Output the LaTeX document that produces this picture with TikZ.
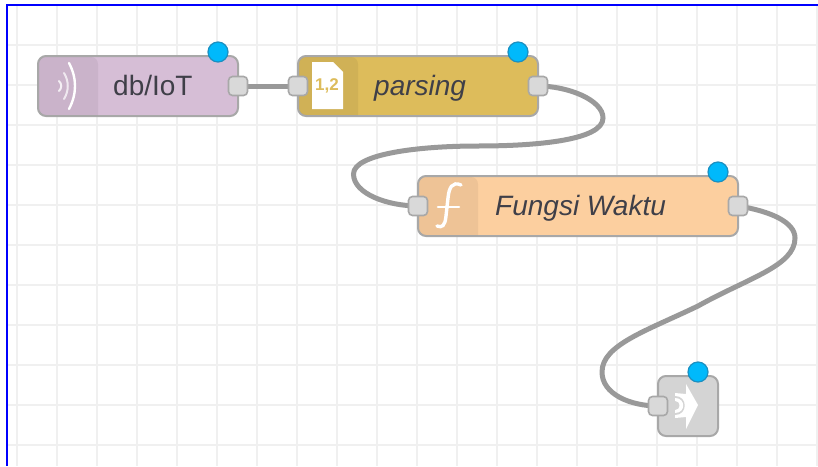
\documentclass[tikz,border=0pt]{standalone}
\usepackage{fontspec}
\setmainfont{Liberation Sans}
\pgfdeclarelayer{gridlayer}
\pgfdeclarelayer{wirelayer}
\pgfsetlayers{gridlayer,wirelayer,main}
\definecolor{gridc}{HTML}{F0F0F0}
\definecolor{edgec}{HTML}{A8A8A8}
\definecolor{wirec}{HTML}{999999}
\definecolor{portc}{HTML}{D9D9D9}
\definecolor{dotc}{HTML}{00B9FB}
\definecolor{dotb}{HTML}{1C8FC0}
\definecolor{txtc}{HTML}{3F3F48}
\definecolor{dbc}{HTML}{D6BED6}
\definecolor{parsec}{HTML}{DDBC5B}
\definecolor{funcc}{HTML}{FCCF9F}
\definecolor{linkc}{HTML}{D4D4D4}
\tikzset{
  x=1pt,y=-1pt,
  flow/.style={draw=edgec,line width=2pt,rounded corners=8pt,minimum height=60pt,inner sep=0pt,anchor=center},
  portbox/.style={draw=edgec,fill=portc,line width=1.6pt,rounded corners=4pt,minimum width=19pt,minimum height=19pt,inner sep=0pt},
  statusdot/.style={circle,draw=dotb,fill=dotc,line width=1.2pt,minimum size=20pt,inner sep=0pt},
  wire/.style={draw=wirec,line width=5pt,line cap=round},
  shade/.style={fill=black,fill opacity=.055},
  lbl/.style={text=txtc,anchor=base west,inner sep=0pt,font=\fontsize{28}{32}\selectfont},
  iconline/.style={draw=white,line cap=round}
}
\begin{document}
\begin{tikzpicture}
\useasboundingbox (0,0) rectangle (818,466);
% grid
\begin{pgfonlayer}{gridlayer}
\fill[white] (0,0) rectangle (818,466);
\foreach \gx in {17,57,...,817} \draw[gridc,line width=2pt] (\gx,5) -- (\gx,466);
\foreach \gy in {45,85,...,445} \draw[gridc,line width=2pt] (7,\gy) -- (818,\gy);
\draw[blue,line width=2pt] (818,5) -- (7,5) -- (7,466);
\end{pgfonlayer}
% nodes
\node[flow,fill=dbc,minimum width=200pt] (db) at (138,86) {};
\node[flow,fill=parsec,minimum width=240pt] (parse) at (418,86) {};
\node[flow,fill=funcc,minimum width=320pt] (func) at (578,206) {};
\node[flow,fill=linkc,minimum width=60pt] (linkout) at (688,406) {};
% icon shading
\fill[shade,rounded corners=7pt] (39,57) -- (98,57) [sharp corners] -- (98,115) [rounded corners=7pt] -- (39,115) -- cycle;
\fill[shade,rounded corners=7pt] (299,57) -- (358,57) [sharp corners] -- (358,115) [rounded corners=7pt] -- (299,115) -- cycle;
\fill[shade,rounded corners=7pt] (419,177) -- (478,177) [sharp corners] -- (478,235) [rounded corners=7pt] -- (419,235) -- cycle;
% inject icon
\draw[iconline,line width=2.4pt] (69,63) .. controls (77,78) and (77,94) .. (69,109);
\draw[iconline,line width=2pt,opacity=.7] (64,73) .. controls (69,81) and (69,91) .. (64,99);
\draw[iconline,line width=2pt,opacity=.8] (59,81) .. controls (62,84) and (62,88) .. (59,91);
% document icon
\fill[white] (312,62) -- (333,62) -- (343,72) -- (343,109) -- (312,109) -- cycle;
\node[inner sep=0pt,text=parsec,font=\fontsize{17}{20}\selectfont\bfseries] (numicon) at (327,86) {1,2};
% function icon
\draw[iconline,line width=3.4pt] (461,185) .. controls (452,181) and (449,188) .. (448,198) -- (446,216) .. controls (445,226) and (442,228) .. (437,226);
\draw[iconline,line width=2.6pt] (438,207) -- (459,207);
% link out icon
\fill[white] (675,393) -- (686,394) -- (686,384) -- (698,405) -- (686,429) -- (686,417) -- (675,418) -- cycle;
\fill[linkc] (675,396) .. controls (688,396) and (688,415) .. (675,415) -- cycle;
\fill[white] (675,398) .. controls (685.5,398) and (685.5,413) .. (675,413) -- cycle;
\fill[linkc] (675,401) .. controls (680.5,401) and (680.5,410) .. (675,410) -- cycle;
% labels
\node[lbl] (dbl) at (113,95.5) {db/IoT};
\node[lbl,font=\fontsize{28}{32}\selectfont\itshape] (parsel) at (374,95.5) {parsing};
\node[lbl,font=\fontsize{28}{32}\selectfont\itshape] (funcl) at (495,215.5) {Fungsi Waktu};
% ports
\node[portbox] (dbo) at (238,86) {};
\node[portbox] (parsei) at (298,86) {};
\node[portbox] (parseo) at (538,86) {};
\node[portbox] (funci) at (418,206) {};
\node[portbox] (funco) at (738,206) {};
\node[portbox] (linki) at (658,406) {};
% status dots
\node[statusdot] (s1) at (218,52) {};
\node[statusdot] (s2) at (518,52) {};
\node[statusdot] (s3) at (718,172) {};
\node[statusdot] (s4) at (698,372) {};
% wires
\coordinate (w1a) at (603,118);
\coordinate (w1b) at (478,146);
\coordinate (w1c) at (353.5,174);
\coordinate (w2a) at (795,238);
\coordinate (w2b) at (698,306);
\coordinate (w2c) at (602,372);
\begin{pgfonlayer}{wirelayer}
\draw[wire] (dbo.center) -- (parsei.center);
\draw[wire] (parseo.center) .. controls +(30,0) and +(0,-18) .. (w1a)
  .. controls +(0,22) and +(60,0) .. (w1b)
  .. controls +(-60,0) and +(0,-20) .. (w1c)
  .. controls +(0,20) and +(-30,0) .. (funci.center);
\draw[wire] (funco.center) .. controls +(32,5) and +(0,-16) .. (w2a)
  .. controls +(0,28) and +(50,-28) .. (w2b)
  .. controls +(-52,25) and +(0,-27) .. (w2c)
  .. controls +(0,22) and +(-28,0) .. (linki.center);
\end{pgfonlayer}
\end{tikzpicture}
\end{document}
